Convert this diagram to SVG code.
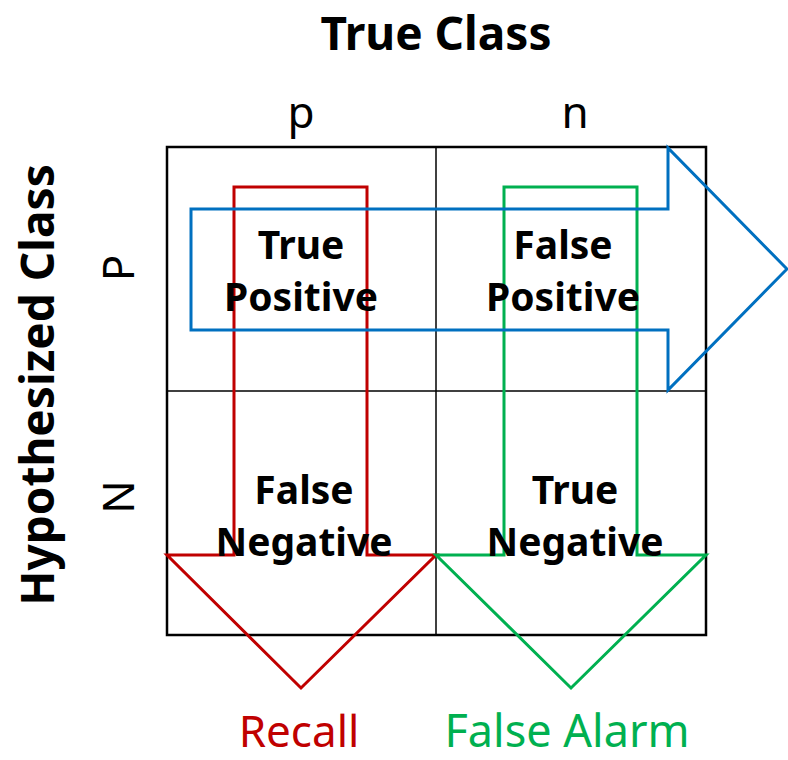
<svg xmlns="http://www.w3.org/2000/svg" width="788" height="760" viewBox="0 0 788 760">
<style>
.t{font-family:"Noto Sans","Open Sans","Liberation Sans",sans-serif}
.b{font-weight:bold}
.cell{font-size:39px;font-weight:bold;text-anchor:middle;fill:#000}
.arr{fill:none;stroke-width:3;stroke-linejoin:miter}
</style>
<rect width="788" height="760" fill="#fff"/>
<g id="grid">
<rect x="167" y="147" width="539" height="488" fill="none" stroke="#000" stroke-width="2.5"/>
<line x1="436" y1="147" x2="436" y2="635" stroke="#000" stroke-width="1.5"/>
<line x1="167" y1="391" x2="706" y2="391" stroke="#000" stroke-width="1.5"/>
</g>
<g id="connectors">
<polygon id="recall-arrow" class="arr" stroke="#C00000" points="234,187 367,187 367,555 436,555 301,688 167,555 234,555"/>
<polygon id="falsealarm-arrow" class="arr" stroke="#00B050" points="504,187 637,187 637,555 706,555 571,688 436,555 504,555"/>
<polygon id="precision-arrow" class="arr" stroke="#0070C0" points="191,209 668,209 668,148 787,269 668,390 668,330 191,330"/>
</g>
<g id="title-true"><text class="t b" x="436" y="50" font-size="46" text-anchor="middle">True Class</text></g>
<g id="col-p"><text class="t" x="301" y="128" font-size="44" text-anchor="middle">p</text></g>
<g id="col-n"><text class="t" x="575" y="128" font-size="44" text-anchor="middle">n</text></g>
<g id="title-hyp"><text class="t b" font-size="46" text-anchor="middle" transform="translate(54,385) rotate(-90)">Hypothesized Class</text></g>
<g id="row-P"><text class="t" font-size="44" text-anchor="middle" transform="translate(134,268) rotate(-90)">P</text></g>
<g id="row-N"><text class="t" font-size="44" text-anchor="middle" transform="translate(134,497) rotate(-90)">N</text></g>
<g id="tp"><text class="t cell" x="301" y="259">True</text><text class="t cell" x="301" y="311">Positive</text></g>
<g id="fp"><text class="t cell" x="563" y="259">False</text><text class="t cell" x="563" y="311">Positive</text></g>
<g id="fn"><text class="t cell" x="304" y="504">False</text><text class="t cell" x="304" y="556">Negative</text></g>
<g id="tn"><text class="t cell" x="575" y="504">True</text><text class="t cell" x="575" y="556">Negative</text></g>
<g id="recall"><text class="t" x="299" y="747" font-size="44" fill="#C00000" text-anchor="middle">Recall</text></g>
<g id="falsealarm"><text class="t" x="567" y="747" font-size="45" fill="#00B050" text-anchor="middle">False Alarm</text></g>
</svg>
